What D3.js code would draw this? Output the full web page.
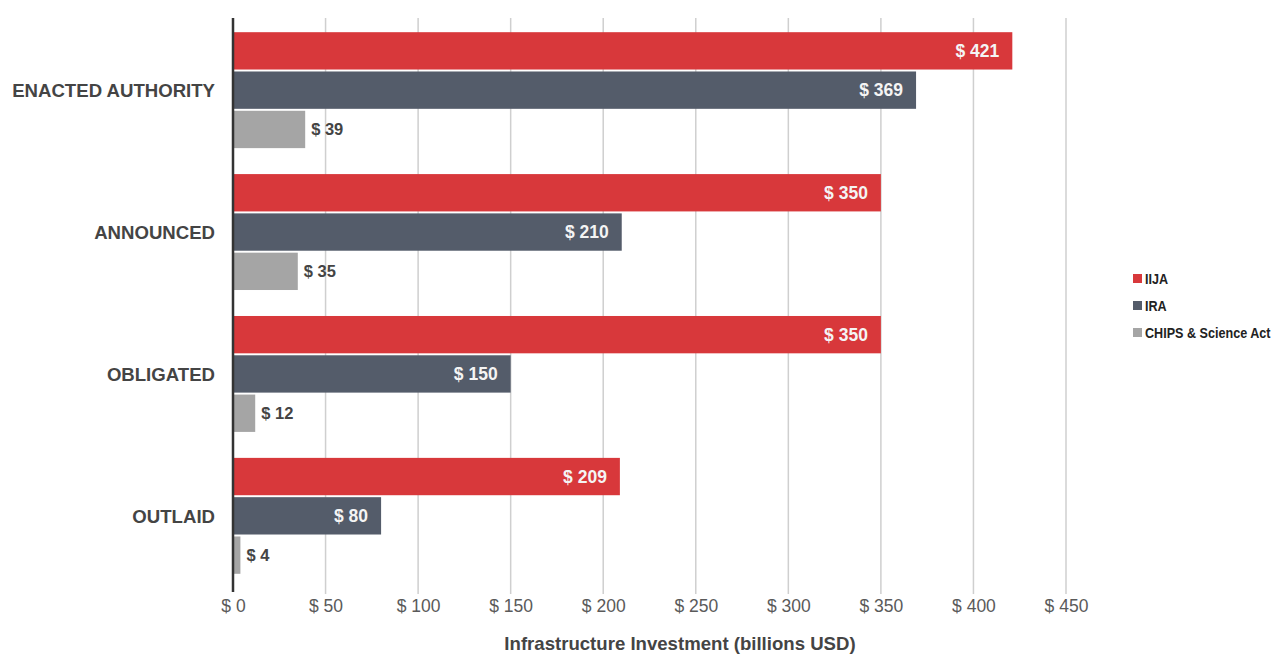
<!DOCTYPE html>
<html>
<head>
<meta charset="utf-8">
<script src="https://cdn.jsdelivr.net/npm/d3@7"></script>
<style>
  body { margin: 0; background: #fff; }
  svg { display: block; }
</style>
</head>
<body>
<div id="chart"></div>
<script>
// chart data
const categories = ["ENACTED AUTHORITY", "ANNOUNCED", "OBLIGATED", "OUTLAID"];
const seriesNames = ["IIJA", "IRA", "CHIPS & Science Act"];
const iija = [421, 350, 350, 209];
const ira = [369, 210, 150, 80];
const chips = [39, 35, 12, 4];
const xTicks = [0, 50, 100, 150, 200, 250, 300, 350, 400, 450];
const colors = ["#d8383b", "#545c6a", "#a5a5a5"];

const width = 1272;
const height = 655;
const font = "Liberation Sans, Arial, sans-serif";

const svg = d3.select("#chart")
    .append("svg")
    .attr("width", width)
    .attr("height", height);

const x = d3.scaleLinear()
    .domain([0, 450])
    .range([233, 1066]);

const y = d3.scaleBand()
    .domain(categories)
    .range([18, 588])
    .paddingInner(0.183)
    .paddingOuter(0.1);

const ySub = d3.scaleBand()
    .domain(seriesNames)
    .range([0, y.bandwidth()])
    .paddingInner(0.05);

const values = [iija, ira, chips];

// gridlines
svg.append("g")
    .selectAll("line")
    .data(xTicks.slice(1))
    .enter().append("line")
    .attr("x1", d => x(d))
    .attr("x2", d => x(d))
    .attr("y1", 18)
    .attr("y2", 594)
    .attr("stroke", "#cfcfcf")
    .attr("stroke-width", 1.5);

// tick labels
const xAxis = d3.axisBottom(x)
    .tickValues(xTicks)
    .tickFormat(d => "$ " + d)
    .tickSize(0)
    .tickPadding(0);

const axisG = svg.append("g")
    .attr("transform", "translate(0,600)")
    .call(xAxis);
axisG.select(".domain").remove();
axisG.selectAll("text")
    .attr("dy", "0.71em")
    .style("font-family", font)
    .style("font-size", "17.5px")
    .style("fill", "#5a5a5a");

// bars
const groups = svg.append("g")
    .selectAll("g")
    .data(categories)
    .enter().append("g")
    .attr("transform", d => `translate(0,${y(d)})`);

groups.selectAll("rect")
    .data((d, i) => seriesNames.map((s, j) => ({ series: s, idx: j, value: values[j][i] })))
    .enter().append("rect")
    .attr("x", x(0))
    .attr("y", d => ySub(d.series))
    .attr("width", d => x(d.value) - x(0))
    .attr("height", ySub.bandwidth())
    .attr("fill", d => colors[d.idx]);

// value labels
groups.selectAll("text.value")
    .data((d, i) => seriesNames.map((s, j) => ({ series: s, idx: j, value: values[j][i] })))
    .enter().append("text")
    .attr("class", "value")
    .attr("x", d => d.idx < 2 ? x(d.value) - 13 : x(d.value) + 6)
    .attr("y", d => ySub(d.series) + ySub.bandwidth() / 2)
    .attr("dy", "0.36em")
    .attr("text-anchor", d => d.idx < 2 ? "end" : "start")
    .style("font-family", font)
    .style("font-weight", "bold")
    .style("font-size", d => d.idx < 2 ? "17.5px" : "16.5px")
    .style("fill", d => d.idx < 2 ? "#f4f4f4" : "#444")
    .text(d => "$ " + d.value);

// axis line
svg.append("line")
    .attr("x1", x(0))
    .attr("x2", x(0))
    .attr("y1", 18)
    .attr("y2", 592)
    .attr("stroke", "#333")
    .attr("stroke-width", 2.5);

// category labels
svg.append("g")
    .selectAll("text")
    .data(categories)
    .enter().append("text")
    .attr("x", 215)
    .attr("y", d => y(d) + y.bandwidth() / 2)
    .attr("dy", "0.36em")
    .attr("text-anchor", "end")
    .style("font-family", font)
    .style("font-weight", "bold")
    .style("font-size", "18.6px")
    .style("fill", "#444")
    .text(d => d);

// axis title
svg.append("text")
    .attr("x", 680)
    .attr("y", 650)
    .attr("text-anchor", "middle")
    .style("font-family", font)
    .style("font-weight", "bold")
    .style("font-size", "18.6px")
    .style("fill", "#444")
    .text("Infrastructure Investment (billions USD)");

// legend
const legend = svg.append("g")
    .selectAll("g")
    .data(seriesNames)
    .enter().append("g")
    .attr("transform", (d, i) => `translate(1133,${279 + i * 27})`);

legend.append("rect")
    .attr("x", 0)
    .attr("y", -5)
    .attr("width", 9)
    .attr("height", 9)
    .attr("fill", (d, i) => colors[i]);

legend.append("text")
    .attr("transform", "translate(12,0) scale(0.84,1)")
    .attr("dy", "0.36em")
    .style("font-family", font)
    .style("font-weight", "bold")
    .style("font-size", "15px")
    .style("fill", "#222")
    .text(d => d);
</script>
</body>
</html>
